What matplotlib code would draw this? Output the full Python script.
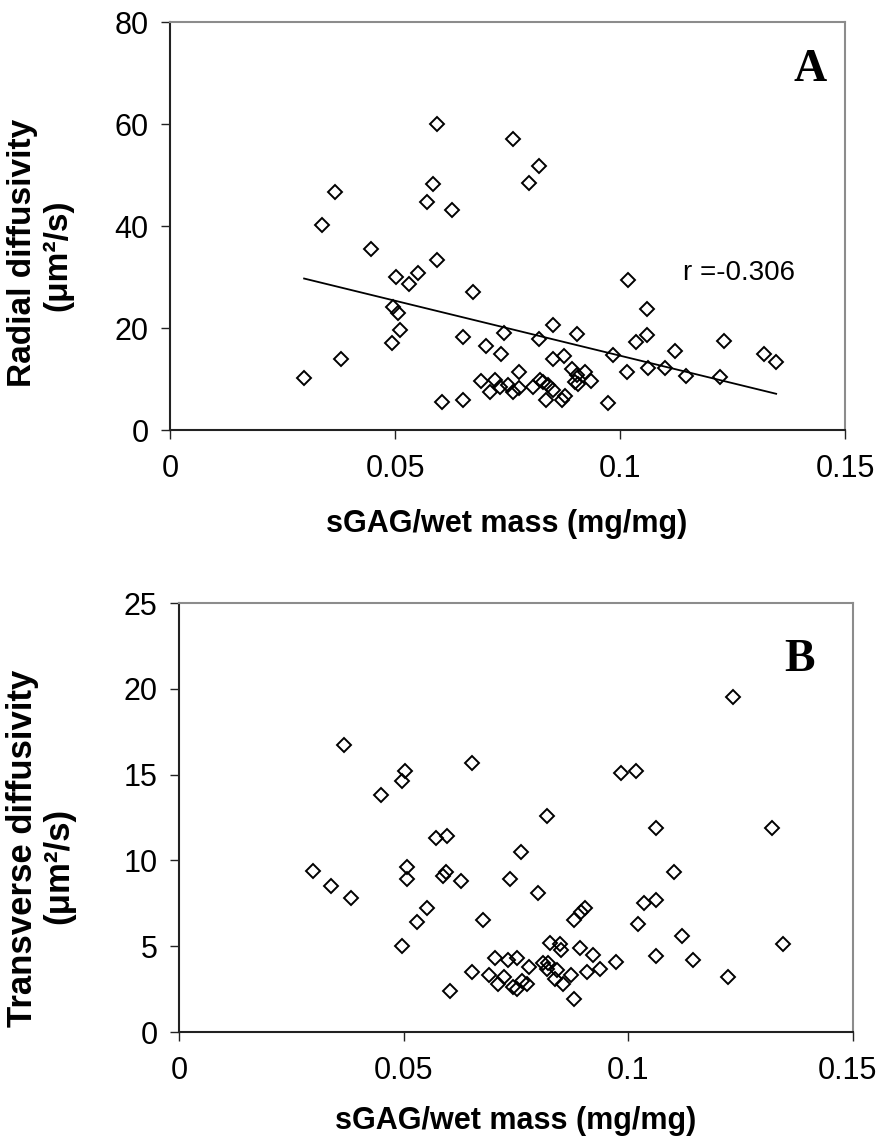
import matplotlib
matplotlib.use("Agg")
import matplotlib.pyplot as plt
import matplotlib.transforms as mtransforms
import numpy as np

plt.rcParams['font.family'] = ['Liberation Sans', 'DejaVu Sans']

# ---- Panel A data: sGAG/wet mass vs radial diffusivity ----
a_x = [0.0298, 0.0337, 0.0366, 0.0381, 0.0447, 0.0494, 0.0495, 0.0502, 0.0507, 0.0510,
       0.0530, 0.0552, 0.0570, 0.0585, 0.0594, 0.0594, 0.0604, 0.0626, 0.0650, 0.0650,
       0.0674, 0.0690, 0.0702, 0.0711, 0.0722, 0.0733, 0.0736, 0.0742, 0.0752, 0.0762,
       0.0762, 0.0776, 0.0776, 0.0798, 0.0807, 0.0819, 0.0820, 0.0822, 0.0828, 0.0836,
       0.0841, 0.0850, 0.0852, 0.0852, 0.0870, 0.0876, 0.0878, 0.0893, 0.0900, 0.0904,
       0.0904, 0.0907, 0.0922, 0.0935, 0.0973, 0.0984, 0.1015, 0.1018, 0.1035, 0.1061,
       0.1061, 0.1063, 0.1100, 0.1122, 0.1146, 0.1222, 0.1231, 0.1319, 0.1346]
a_y = [10.1, 40.1, 46.7, 14.0, 35.4, 17.0, 24.2, 30.0, 22.9, 19.6,
       28.7, 30.8, 44.7, 48.2, 60.0, 33.3, 5.5, 43.2, 18.2, 5.9,
       27.1, 9.6, 16.5, 7.5, 9.8, 8.5, 15.0, 19.0, 8.8, 57.1,
       7.5, 8.2, 11.4, 48.4, 8.5, 17.8, 51.8, 9.8, 9.5, 5.9,
       8.8, 13.9, 20.6, 7.8, 5.9, 14.6, 6.7, 11.9, 9.5, 18.8,
       10.8, 9.1, 11.4, 9.7, 5.2, 14.7, 11.4, 29.4, 17.3, 23.8,
       18.6, 12.2, 12.2, 15.4, 10.6, 10.3, 17.5, 15.0, 13.4]
# linear trend line end points
a_trend_x = [0.0298, 0.1347]
a_trend_y = [29.7, 7.1]
a_r_text = "r =-0.306"

# ---- Panel B data: sGAG/wet mass vs transverse diffusivity ----
b_x = [0.0299, 0.0338, 0.0368, 0.0383, 0.0449, 0.0497, 0.0497, 0.0503, 0.0507, 0.0508,
       0.0529, 0.0551, 0.0571, 0.0587, 0.0594, 0.0597, 0.0603, 0.0628, 0.0653, 0.0653,
       0.0677, 0.0691, 0.0703, 0.0711, 0.0724, 0.0733, 0.0737, 0.0744, 0.0752, 0.0752,
       0.0761, 0.0764, 0.0775, 0.0778, 0.0800, 0.0811, 0.0818, 0.0820, 0.0822, 0.0826,
       0.0837, 0.0842, 0.0849, 0.0851, 0.0854, 0.0872, 0.0878, 0.0878, 0.0892, 0.0894,
       0.0904, 0.0907, 0.0922, 0.0936, 0.0972, 0.0983, 0.1016, 0.1021, 0.1035, 0.1062,
       0.1062, 0.1062, 0.1102, 0.1120, 0.1145, 0.1221, 0.1232, 0.1319, 0.1345]
b_y = [9.4, 8.5, 16.7, 7.8, 13.8, 14.6, 5.0, 15.2, 9.6, 8.9,
       6.4, 7.2, 11.3, 9.1, 9.3, 11.4, 2.4, 8.8, 15.7, 3.5,
       6.5, 3.3, 4.3, 2.8, 3.2, 4.2, 8.9, 2.6, 4.3, 2.5,
       10.5, 3.0, 2.8, 3.8, 8.1, 4.0, 3.7, 12.6, 4.0, 5.2,
       3.1, 3.6, 5.1, 4.8, 2.8, 3.3, 6.5, 1.9, 4.9, 7.0,
       7.2, 3.5, 4.5, 3.7, 4.1, 15.1, 15.2, 6.3, 7.5, 7.7,
       11.9, 4.4, 9.3, 5.6, 4.2, 3.2, 19.5, 11.9, 5.1]

x_ticks = [0, 0.05, 0.1, 0.15]
x_ticklabels = ["0", "0.05", "0.1", "0.15"]
a_yticks = [0, 20, 40, 60, 80]
b_yticks = [0, 5, 10, 15, 20, 25]
x_label = "sGAG/wet mass (mg/mg)"
a_ylabel = ["Radial diffusivity", "(\u03bcm\u00b2/s)"]
b_ylabel = ["Transverse diffusivity", "(\u03bcm\u00b2/s)"]

W, H = 880, 1139
fig = plt.figure(figsize=(W / 100, H / 100), dpi=100)

def px_axes(l, r, t, b):
    return fig.add_axes([l / W, 1 - b / H, (r - l) / W, (b - t) / H])

axA = px_axes(170, 845, 22, 430)
axB = px_axes(179, 853, 603, 1032)

TICK_FS = 22
XLABEL_FS = 22
YLABEL_FS = 24

def style(ax, yticks, ylim):
    ax.set_xlim(0, 0.15)
    ax.set_ylim(*ylim)
    ax.set_xticks(x_ticks)
    ax.set_xticklabels(x_ticklabels)
    ax.set_yticks(yticks)
    ax.set_yticklabels([str(v) for v in yticks])
    for s in ['left', 'bottom']:
        ax.spines[s].set_color('#222222')
        ax.spines[s].set_linewidth(1.5)
    for s in ['top', 'right']:
        ax.spines[s].set_color('#8c8c8c')
        ax.spines[s].set_linewidth(1.5)
    ax.tick_params(axis='x', direction='out', length=6.5, width=1.0, colors='#222222',
                   labelsize=TICK_FS, labelcolor='black', pad=11)
    ax.tick_params(axis='y', direction='out', length=6.5, width=1.0, colors='#222222',
                   labelsize=TICK_FS, labelcolor='black', pad=9)
    ax.patch.set_facecolor('white')

mk = dict(marker='D', linestyle='none', markersize=7.0, markerfacecolor='none',
          markeredgecolor='black', markeredgewidth=1.4)

axA.plot(a_x, a_y, **mk, zorder=3)
axA.plot(a_trend_x, a_trend_y, color='black', linewidth=1.3, zorder=2)
style(axA, a_yticks, (0, 80))
axA.text(0.1139, 29.4, a_r_text, fontsize=20, ha='left', va='baseline')
axA.text(0.1422, 70.6, "A", fontsize=33, fontweight='bold', family='Liberation Serif',
         ha='center', va='center')

axB.plot(b_x, b_y, **mk, zorder=3)
style(axB, b_yticks, (0, 25))
axB.text(0.1382, 21.7, "B", fontsize=33, fontweight='bold', family='Liberation Serif',
         ha='center', va='center')

# keep the last x tick label of panel B inside the figure edge
last_lbl = axB.get_xticklabels()[-1]
last_lbl.set_transform(last_lbl.get_transform() +
                       mtransforms.ScaledTranslation(-6 / 100, 0, fig.dpi_scale_trans))

# axis titles placed in pixel positions
def ftext(x, y, s, **kw):
    fig.text(x / W, 1 - y / H, s, **kw)

ftext(507, 524, x_label, fontsize=XLABEL_FS, fontweight='bold', ha='center', va='center')
ftext(516, 1121, x_label, fontsize=XLABEL_FS, fontweight='bold', ha='center', va='center')

ftext(23, 253, a_ylabel[0], fontsize=YLABEL_FS, fontweight='bold', rotation=90, ha='center', va='center')
ftext(58, 255, a_ylabel[1], fontsize=YLABEL_FS, fontweight='bold', rotation=90, ha='center', va='center')
ftext(23, 848, b_ylabel[0], fontsize=25, fontweight='bold', rotation=90, ha='center', va='center')
ftext(59, 866, b_ylabel[1], fontsize=25, fontweight='bold', rotation=90, ha='center', va='center')

fig.savefig("out.png", dpi=100, facecolor='white')
